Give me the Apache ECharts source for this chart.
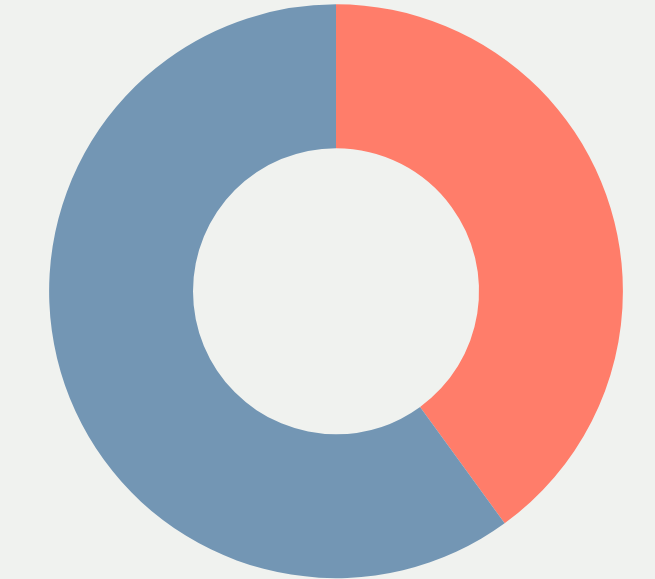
<!DOCTYPE html>
<html>
<head>
  <meta charset="UTF-8">
  <title>Donut</title>
  <style>
    html, body { margin: 0; background: #f0f2ef; }
    #main { width: 655px; height: 579px; }
  </style>
</head>
<body>
  <div id="main"></div>
  <script src="https://cdn.jsdelivr.net/npm/echarts@6/dist/echarts.min.js"></script>
  <script>
    const categories = ['A', 'B'];
    const values = [40, 60];
    const colors = ['#ff7d6a', '#7396b4'];

    const myChart = echarts.init(document.getElementById('main'));

    myChart.setOption({
      backgroundColor: '#f0f2ef',
      animation: false,
      series: [{
        type: 'pie',
        center: ['51.3%', '50.3%'],
        radius: ['49.4%', '99.1%'],
        startAngle: 90,
        clockwise: true,
        label: { show: false },
        labelLine: { show: false },
        emphasis: { disabled: true },
        itemStyle: { borderWidth: 0 },
        data: categories.map((name, i) => ({
          name: name,
          value: values[i],
          itemStyle: { color: colors[i] }
        }))
      }]
    });
  </script>
</body>
</html>
